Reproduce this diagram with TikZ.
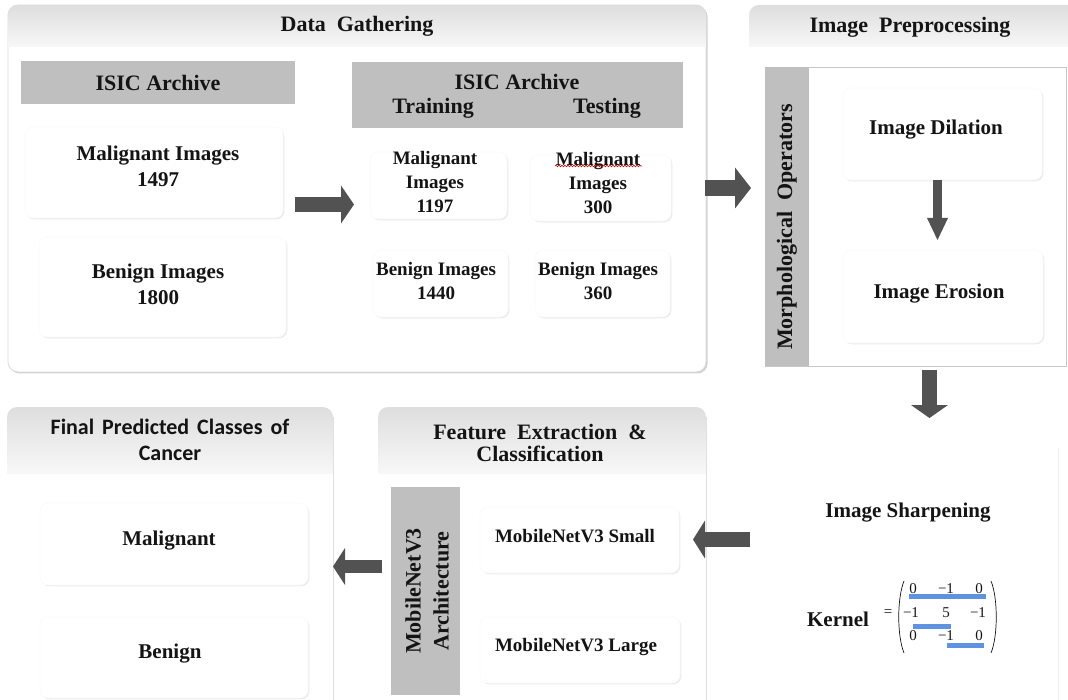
\documentclass[tikz,border=0pt]{standalone}
\usepackage{fontspec}
\setmainfont{Liberation Serif}
\newfontfamily\calfont{Carlito}
\usetikzlibrary{arrows.meta,decorations.pathmorphing,shadows}
\definecolor{arrowgray}{RGB}{82,82,82}
\definecolor{stripgray}{RGB}{191,191,191}
\definecolor{kblue}{RGB}{96,146,226}
\definecolor{txtcol}{RGB}{20,20,20}
\begin{document}
\begin{tikzpicture}[x=1pt,y=-1pt,
  every node/.style={inner sep=0pt, outer sep=0pt},
  lbl/.style={align=center, text=txtcol},
  fa/.style={font=\bfseries\fontsize{21}{26}\selectfont},
  fb/.style={font=\bfseries\fontsize{19}{24}\selectfont},
  fc/.style={font=\bfseries\fontsize{22}{26}\selectfont},
  fk/.style={font=\fontsize{15}{15}\selectfont, text=txtcol},
  hdr/.style={top color=black!13, bottom color=black!3, draw=none},
  panel/.style={fill=white, draw=black!14, line width=0.8pt, rounded corners=10pt,
     drop shadow={shadow xshift=1.5pt, shadow yshift=-1.5pt, fill=black!18, opacity=1}},
  sbox/.style={fill=white, draw=black!2, line width=0.6pt, rounded corners=8pt,
     drop shadow={shadow xshift=1.3pt, shadow yshift=-1.3pt, fill=black!8, opacity=1}},
  gbox/.style={fill=stripgray, draw=none},
  barrow/.style n args={3}{color=arrowgray, line width=#1,
     -{Triangle[length=#3, width=#2, line width=0pt]}},
  edgeline/.style={draw=black!12, line width=0.9pt},
]
\useasboundingbox (0,0) rectangle (1068,700);

% ---------------- Data Gathering ----------------
\node[panel, minimum width=698pt, minimum height=367pt] (dg) at (357,188.5) {};
\begin{scope}
  \clip[rounded corners=10pt] (8,5) rectangle (706,372);
  \node[hdr, minimum width=698pt, minimum height=42pt, lbl, fc] (dgh) at (357,26) {Data\ \ Gathering};
\end{scope}

\node[gbox, minimum width=274pt, minimum height=43pt, lbl, fc] (isic1) at (158,82.5) {ISIC Archive};

\node[sbox, minimum width=258pt, minimum height=91pt] (m1497box) at (154,172.5) {};
\node[lbl, fa] (m1497) at (158,166) {Malignant Images\\1497};
\node[sbox, minimum width=247pt, minimum height=100pt] (b1800box) at (162.5,287) {};
\node[lbl, fa] (b1800) at (158,284) {Benign Images\\1800};

\node[gbox, minimum width=331pt, minimum height=66pt] (isic2) at (517.5,95) {};
\node[lbl, fc] (isic2t) at (517,82) {ISIC Archive};
\node[lbl, fc] (train) at (433,108) {Training};
\node[lbl, fc] (test) at (607,108) {Testing};

\node[sbox, minimum width=137pt, minimum height=67pt] (m1197box) at (438.5,185.5) {};
\node[lbl, fb] (m1197) at (435,182) {Malignant\\Images\\1197};
\node[sbox, minimum width=141pt, minimum height=66pt] (m300box) at (600.5,188) {};
\node[lbl, fb] (m300) at (598,183) {Malignant\\Images\\300};
\draw[red!85!black, line width=0.6pt, decorate,
      decoration={snake, amplitude=0.8pt, segment length=3pt}] (555,166) -- (642,166);
\node[sbox, minimum width=135pt, minimum height=67pt] (b1440box) at (440.5,283.5) {};
\node[lbl, fb] (b1440) at (436,281) {Benign Images\\1440};
\node[sbox, minimum width=135pt, minimum height=67pt] (b360box) at (602.5,283.5) {};
\node[lbl, fb] (b360) at (598,281) {Benign Images\\360};

% ---------------- Image Preprocessing ----------------
\begin{scope}
  \clip[rounded corners=10pt] (749,5) rectangle (1100,60);
  \node[hdr, minimum width=319pt, minimum height=42pt] (iph) at (908.5,26) {};
\end{scope}
\node[lbl, fc] (ipt) at (910,27) {Image\ \ Preprocessing};

\node[fill=white, draw=black!22, line width=0.8pt, minimum width=301pt, minimum height=299pt] (morph) at (915.5,216.5) {};
\node[gbox, minimum width=44pt, minimum height=299pt] (mstrip) at (787,216.5) {};
\node[lbl, fc, rotate=90] (mtext) at (787,227) {Morphological\ \ Operators};

\node[sbox, minimum width=199pt, minimum height=92pt] (dilbox) at (942.5,134) {};
\node[lbl, fa] (dil) at (936,130) {Image Dilation};
\node[sbox, minimum width=200pt, minimum height=93pt] (erobox) at (943,296.5) {};
\node[lbl, fa] (ero) at (939,294) {Image Erosion};

% ---------------- Image Sharpening ----------------
\draw[draw=black!7, line width=1pt] (1058,448) -- (1058,700);
\node[lbl, fa] (sharp) at (908,513) {Image Sharpening};
\node[lbl, fa] (kern) at (838,619) {Kernel};
\node[fk] (eq) at (888,613) {=};
\fill[kblue] (909,594) rectangle (986,598.5);
\fill[kblue] (913,624) rectangle (951,629);
\fill[kblue] (947,643) rectangle (984,648);
\node[fk] (k11) at (913,589) {0};
\node[fk] (k12) at (946,589) {−1};
\node[fk] (k13) at (979,589) {0};
\node[fk] (k21) at (911,613) {−1};
\node[fk] (k22) at (946,613) {5};
\node[fk] (k23) at (978,613) {−1};
\node[fk] (k31) at (913,636) {0};
\node[fk] (k32) at (946,636) {−1};
\node[fk] (k33) at (979,636) {0};
\draw[txtcol, line width=0.7pt] (904,581) .. controls (897,598) and (897,636) .. (904,653);
\draw[txtcol, line width=0.7pt] (991,581) .. controls (998,598) and (998,636) .. (991,653);

% ---------------- Feature Extraction ----------------
\begin{scope}
  \clip[rounded corners=10pt] (378,407) rectangle (706,520);
  \node[hdr, minimum width=328pt, minimum height=66pt] (feh) at (542,440) {};
\end{scope}
\draw[edgeline] (706,417) -- (706,700);
\node[lbl, font=\bfseries\fontsize{22}{22}\selectfont] (fet) at (540,443) {Feature\ \ Extraction\ \ \&\\Classification};
\node[gbox, minimum width=69pt, minimum height=208pt] (mnstrip) at (425.5,591) {};
\node[lbl, font=\bfseries\fontsize{22}{28}\selectfont, rotate=90] (mnt) at (427,591) {MobileNetV3\\Architecture};
\node[sbox, minimum width=199pt, minimum height=66pt] (smallbox) at (579.5,540) {};
\node[lbl, fb] (small) at (575,536) {MobileNetV3 Small};
\node[sbox, minimum width=200pt, minimum height=66pt] (largebox) at (580,650) {};
\node[lbl, fb] (large) at (576,647) {MobileNetV3 Large};

% ---------------- Final Predicted Classes ----------------
\begin{scope}
  \clip[rounded corners=10pt] (7,407) rectangle (333,520);
  \node[hdr, minimum width=326pt, minimum height=66pt] (fph) at (170,440) {};
\end{scope}
\draw[edgeline] (333,417) -- (333,700);
\node[lbl, font=\calfont\bfseries\fontsize{22}{26}\selectfont] (fpt) at (170,440)
   {Final\hspace{8pt}Predicted\hspace{8pt}Classes\hspace{8pt}of\\Cancer};
\node[sbox, minimum width=268pt, minimum height=82pt] (malbox) at (174,544) {};
\node[lbl, fa] (mal) at (169,541) {Malignant};
\node[sbox, minimum width=268pt, minimum height=81pt] (benbox) at (174,657.5) {};
\node[lbl, fa] (ben) at (170,654) {Benign};

% ---------------- Block arrows ----------------
\coordinate (a1s) at (295,204.5);  \coordinate (a1e) at (354,204.5);
\coordinate (a2s) at (705,188);    \coordinate (a2e) at (751,188);
\coordinate (a3s) at (929.5,370);  \coordinate (a3e) at (929.5,418);
\coordinate (a4s) at (750,539.5);  \coordinate (a4e) at (693,539.5);
\coordinate (a5s) at (382,566.5);  \coordinate (a5e) at (333,566.5);
\coordinate (a6s) at (937.5,180);  \coordinate (a6e) at (937.5,240);
\draw[barrow={15pt}{38pt}{13pt}] (a1s) -- (a1e);
\draw[barrow={16pt}{41pt}{16pt}] (a2s) -- (a2e);
\draw[barrow={15pt}{37pt}{13pt}] (a3s) -- (a3e);
\draw[barrow={15pt}{38pt}{12pt}] (a4s) -- (a4e);
\draw[barrow={13pt}{37pt}{12pt}] (a5s) -- (a5e);
\draw[barrow={9pt}{21pt}{22pt}] (a6s) -- (a6e);
\end{tikzpicture}
\end{document}
